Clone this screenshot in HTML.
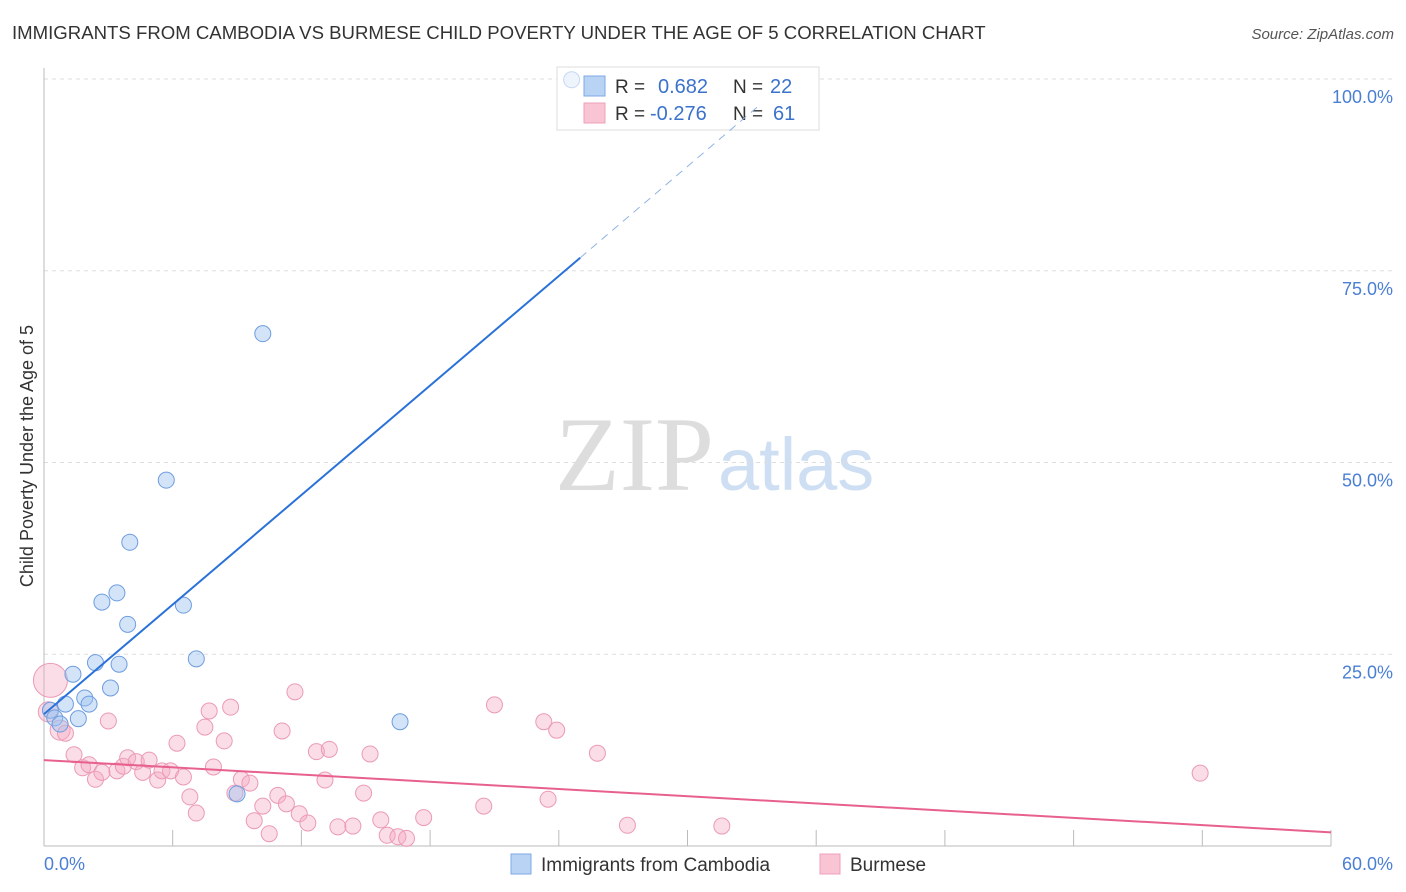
<!DOCTYPE html>
<html><head><meta charset="utf-8"><style>
body{margin:0;background:#fff;font-family:"Liberation Sans",sans-serif;}
svg{display:block}
</style></head><body>
<svg id="chart" width="1406" height="892">
<text x="12" y="39" font-size="18.6" fill="#333">IMMIGRANTS FROM CAMBODIA VS BURMESE CHILD POVERTY UNDER THE AGE OF 5 CORRELATION CHART</text>
<text x="1394" y="39" font-size="15" fill="#555" font-style="italic" text-anchor="end">Source: ZipAtlas.com</text>
<text x="0" y="0" transform="translate(33,456) rotate(-90)" font-size="18" fill="#333" text-anchor="middle">Child Poverty Under the Age of 5</text>
<text x="714" y="490" font-size="106" fill="#ddd" font-family="Liberation Serif,serif" text-anchor="end">ZIP</text>
<text x="718" y="490" font-size="74" fill="#cfdff3" text-anchor="start">atlas</text>
<g id="grid"></g>
<g>
<rect x="557" y="67" width="262" height="63" fill="#fff" stroke="#ddd"/>
<rect x="584" y="76" width="21" height="20" fill="#b9d3f4" stroke="#7eaae4"/>
<rect x="584" y="103" width="21" height="20" fill="#f9c4d3" stroke="#eea0ba"/>
<text x="615" y="93" font-size="19" fill="#333">R = </text><text x="658" y="93" font-size="20" fill="#3a72cc">0.682</text>
<text x="733" y="93" font-size="19" fill="#333">N = </text><text x="770" y="93" font-size="20" fill="#3a72cc">22</text>
<text x="615" y="120" font-size="19" fill="#333">R = </text><text x="650" y="120" font-size="20" fill="#3a72cc">-0.276</text>
<text x="733" y="120" font-size="19" fill="#333">N = </text><text x="773" y="120" font-size="20" fill="#3a72cc">61</text>
</g>
<g id="marks"></g>
<g>
<rect x="511" y="854" width="20" height="20" fill="#b9d3f4" stroke="#7eaae4"/>
<text x="541" y="871" font-size="19" fill="#333">Immigrants from Cambodia</text>
<rect x="820" y="854" width="20" height="20" fill="#f9c4d3" stroke="#eea0ba"/>
<text x="850" y="871" font-size="19" fill="#333">Burmese</text>
</g>
</svg>
<script>
const blueX=[24.6,10.2,5.7,4.0,3.4,2.7,6.5,3.9,2.4,3.5,7.1,1.35,3.1,1.9,2.1,1.0,0.3,1.6,0.5,0.75,16.6,9.0];
const blueY=[99.9,66.8,47.7,39.6,33.0,31.8,31.4,28.9,23.9,23.7,24.4,22.4,20.6,19.3,18.5,18.5,17.7,16.6,16.7,15.9,16.2,6.8];
const pinkX=[0.3,0.75,1.0,1.4,1.8,2.1,2.4,2.7,3.0,3.4,3.7,3.9,4.3,4.6,4.9,5.3,5.5,5.9,6.2,6.5,6.8,7.1,7.5,7.7,7.9,8.4,8.7,8.9,9.2,9.6,9.8,10.2,10.5,10.9,11.1,11.3,11.7,11.9,12.3,12.7,13.1,13.3,13.7,14.4,14.9,15.2,15.7,16.0,16.5,16.9,17.7,20.5,21.0,23.3,23.5,23.9,25.8,27.2,31.6,53.9,0.2];
const pinkY=[21.6,15.1,14.7,11.9,10.2,10.6,8.7,9.6,16.3,9.8,10.4,11.5,11.0,9.6,11.2,8.6,9.8,9.8,13.4,9.0,6.4,4.3,15.5,17.6,10.3,13.7,18.1,6.9,8.7,8.2,3.3,5.2,1.6,6.6,15.0,5.5,20.1,4.2,3.0,12.3,8.6,12.6,2.5,2.6,6.9,12.0,3.4,1.4,1.2,1.0,3.7,5.2,18.4,16.2,6.1,15.1,12.1,2.7,2.6,9.5,17.5];
const blueLine=[17.2,2.38];  // intercept, slope
const pinkLine=[11.2,-0.157];
const xTicks=[0,60];const yTicks=[25,50,75,100];
const X=v=>44+v*21.45, Y=v=>846-v*7.67;
const NS="http://www.w3.org/2000/svg";
const grid=document.getElementById('grid'), marks=document.getElementById('marks');
function mk(tag,a,p){const e=document.createElementNS(NS,tag);for(const k in a)e.setAttribute(k,a[k]);p.appendChild(e);return e;}
yTicks.forEach(t=>{const l=mk('line',{x1:44,x2:1394,y1:Y(t),y2:Y(t),stroke:'#ddd','stroke-dasharray':'4,4'},grid);


const tx=mk('text',{x:1393,y:Y(t)+24,'font-size':18,fill:'#4a7fd4','text-anchor':'end'},grid);tx.textContent=t.toFixed(1)+'%';

});
mk('line',{x1:44,x2:44,y1:68,y2:846,stroke:'#bbb'},grid);
mk('line',{x1:44,x2:1331,y1:846,y2:846,stroke:'#bbb'},grid);
for(let i=1;i<=10;i++){const l=mk('line',{x1:X(i*6),x2:X(i*6),y1:830,y2:846,stroke:'#bbb'},grid);

}
xTicks.forEach((t,i)=>{const tx=mk('text',{x:i?1393:44,y:870,'font-size':18,fill:'#4a7fd4','text-anchor':i?'end':'start'},grid);tx.textContent=t.toFixed(1)+'%';

});
pinkX.forEach((x,i)=>{const r=i===0?17:(i===1||i===60?10:8);const c=mk('circle',{cx:X(x),cy:Y(pinkY[i]),r:r,fill:'rgba(245,170,195,0.4)',stroke:'#eb9ab5','stroke-width':1},marks);

});
blueX.forEach((x,i)=>{const c=mk('circle',{cx:X(x),cy:Y(blueY[i]),r:8,fill:i===0?'rgba(200,220,245,0.3)':'rgba(160,195,240,0.45)',stroke:i===0?'#c5d8f2':'#6d9de0','stroke-width':1},marks);

});
let l=mk('line',{x1:X(0),y1:Y(blueLine[0]),x2:X(25),y2:Y(blueLine[0]+25*blueLine[1]),stroke:'#2b72d8','stroke-width':2},marks);


l=mk('line',{x1:X(25),y1:Y(blueLine[0]+25*blueLine[1]),x2:X(33.3),y2:Y(blueLine[0]+33.3*blueLine[1]),stroke:'#8fb3e6','stroke-width':1,'stroke-dasharray':'8,6'},marks);


l=mk('line',{x1:X(0),y1:Y(pinkLine[0]),x2:X(60),y2:Y(pinkLine[0]+60*pinkLine[1]),stroke:'#e8608e','stroke-width':2},marks);


</script>
</body></html>
